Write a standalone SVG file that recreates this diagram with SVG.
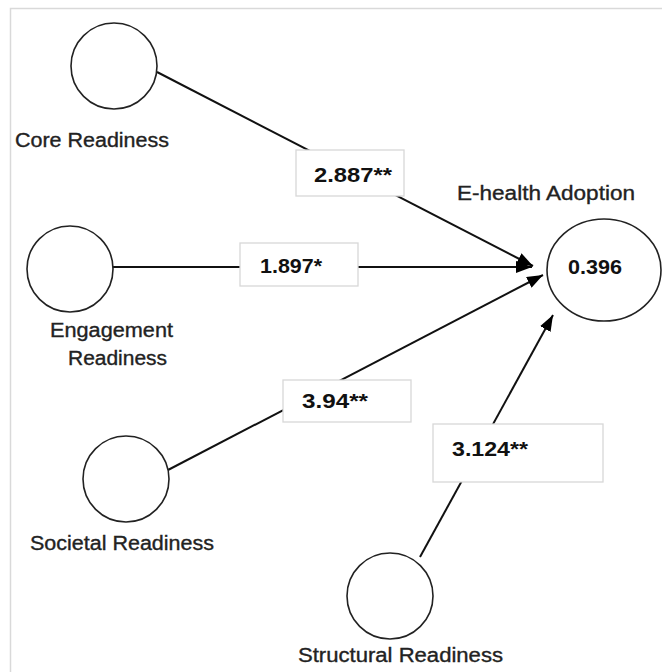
<svg xmlns="http://www.w3.org/2000/svg" width="662" height="672" viewBox="0 0 662 672">
<defs>
<marker id="ah" markerWidth="16" markerHeight="12" refX="16" refY="6" orient="auto" markerUnits="userSpaceOnUse">
<path d="M0,0 L16,6 L0,12 Z" fill="#000"/>
</marker>
<style>
.n{fill:#fff;stroke:#222;stroke-width:1.6}
.t{font-family:"Liberation Sans",Arial,sans-serif;font-size:20px;fill:#222;stroke:#222;stroke-width:0.35}
.v{font-family:"Liberation Sans",Arial,sans-serif;font-size:20px;font-weight:bold;fill:#111}
.c{stroke:#111;stroke-width:2;fill:none}
.b{fill:#fff;stroke:#d8d8d8;stroke-width:1.3}
</style>
</defs>
<rect x="0" y="0" width="662" height="672" fill="#fff"/>
<path d="M10.5,672 V8.5 H662" fill="none" stroke="#d9d9d9" stroke-width="1.5"/>
<g id="connectors">
<line class="c" x1="157" y1="72" x2="533" y2="266" marker-end="url(#ah)"/>
<line class="c" x1="113" y1="267" x2="532" y2="267" marker-end="url(#ah)"/>
<line class="c" x1="168" y1="470" x2="543" y2="275" marker-end="url(#ah)"/>
<line class="c" x1="420" y1="557" x2="553" y2="315" marker-end="url(#ah)"/>
</g>
<g id="label-core">
<rect class="b" x="296" y="150" width="108" height="46"/>
<text class="v" x="314" y="182" textLength="78" lengthAdjust="spacingAndGlyphs">2.887**</text>
</g>
<g id="label-engagement">
<rect class="b" x="240" y="243" width="118" height="43"/>
<text class="v" x="260" y="273" textLength="62" lengthAdjust="spacingAndGlyphs">1.897*</text>
</g>
<g id="label-societal">
<rect class="b" x="283" y="380" width="128" height="42"/>
<text class="v" x="302" y="408" textLength="66" lengthAdjust="spacingAndGlyphs">3.94**</text>
</g>
<g id="label-structural">
<rect class="b" x="433" y="424" width="170" height="58"/>
<text class="v" x="452" y="456" textLength="76" lengthAdjust="spacingAndGlyphs">3.124**</text>
</g>
<g id="core">
<circle class="n" cx="114" cy="66" r="43"/>
<text class="t" x="15" y="147" textLength="154" lengthAdjust="spacingAndGlyphs">Core Readiness</text>
</g>
<g id="engagement">
<circle class="n" cx="70" cy="269" r="43"/>
<text class="t" x="50" y="337" textLength="123" lengthAdjust="spacingAndGlyphs">Engagement</text>
<text class="t" x="68" y="365" textLength="99" lengthAdjust="spacingAndGlyphs">Readiness</text>
</g>
<g id="societal">
<circle class="n" cx="126" cy="479" r="43"/>
<text class="t" x="30" y="550" textLength="184" lengthAdjust="spacingAndGlyphs">Societal Readiness</text>
</g>
<g id="structural">
<circle class="n" cx="390" cy="596" r="43"/>
<text class="t" x="298" y="662" textLength="205" lengthAdjust="spacingAndGlyphs">Structural Readiness</text>
</g>
<g id="ehealth">
<ellipse class="n" cx="604" cy="270" rx="57" ry="51"/>
<text class="t" x="457" y="200" textLength="178" lengthAdjust="spacingAndGlyphs">E-health Adoption</text>
<text class="v" x="568" y="274" textLength="54" lengthAdjust="spacingAndGlyphs">0.396</text>
</g>
</svg>
